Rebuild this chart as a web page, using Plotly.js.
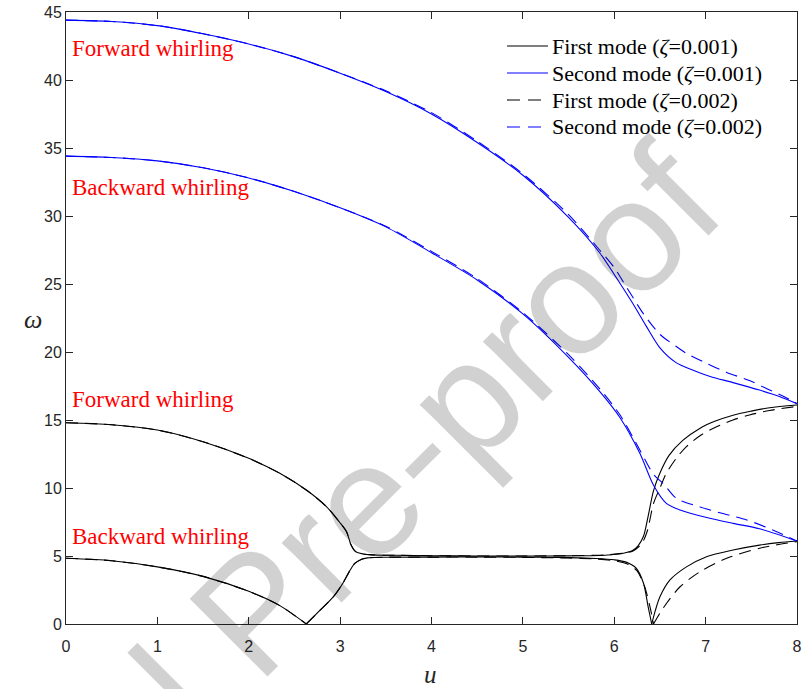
<!DOCTYPE html>
<html>
<head>
<meta charset="utf-8">
<script src="https://cdn.plot.ly/plotly-3.0.1.min.js"></script>
<style>
  html, body { margin: 0; padding: 0; background: #fff; }
  #chart { width: 802px; height: 689px; }
</style>
</head>
<body>
<div id="chart"></div>
<script>
// ---- Whirl frequency omega versus flow velocity u ----

// First mode, zeta = 0.001 (solid black)
const m1a_fw_u = [0, 0.5, 1, 1.5, 2.0, 2.34, 2.63, 2.85, 2.99, 3.07, 3.12, 3.17, 3.25, 3.35, 3.6, 4, 4.5, 5, 5.5, 5.9, 6.1, 6.2, 6.26, 6.32, 6.37, 6.43, 6.5, 6.6, 6.75, 6.94, 7.1, 7.3, 7.5, 7.7, 8];
const m1a_fw_w = [14.8, 14.65, 14.26, 13.4, 12.18, 11.08, 9.85, 8.63, 7.52, 6.79, 5.81, 5.32, 5.15, 5.08, 5.05, 5.02, 5.0, 5.0, 5.01, 5.06, 5.2, 5.4, 5.75, 6.45, 7.9, 9.8, 11.1, 12.4, 13.5, 14.4, 14.9, 15.35, 15.65, 15.9, 16.1];
const m1a_bw1_u = [0, 0.5, 1, 1.5, 2.0, 2.34, 2.63];
const m1a_bw1_w = [4.83, 4.65, 4.2, 3.5, 2.4, 1.35, 0];
const m1a_bw2_u = [2.63, 2.77, 2.92, 3.03, 3.1, 3.16, 3.23, 3.3, 3.5, 4, 4.5, 5, 5.5, 5.8, 6.0, 6.13, 6.24, 6.32, 6.37, 6.41];
const m1a_bw2_w = [0, 0.95, 1.95, 3.0, 3.85, 4.45, 4.75, 4.86, 4.91, 4.92, 4.93, 4.92, 4.88, 4.82, 4.72, 4.55, 4.1, 3.0, 1.3, 0];
const m1a_bw3_u = [6.41, 6.45, 6.5, 6.61, 6.79, 7.01, 7.3, 7.59, 7.8, 8];
const m1a_bw3_w = [0, 1.0, 2.0, 3.24, 4.2, 4.95, 5.44, 5.8, 5.98, 6.1];

// First mode, zeta = 0.002 (dashed black)
const m1b_fw_u = [0, 0.5, 1, 1.5, 2.0, 2.34, 2.63, 2.85, 2.99, 3.07, 3.12, 3.17, 3.25, 3.35, 3.6, 4, 4.5, 5, 5.5, 5.9, 6.1, 6.2, 6.3, 6.36, 6.43, 6.5, 6.57, 6.68, 6.79, 6.95, 7.12, 7.3, 7.48, 7.7, 8];
const m1b_fw_w = [14.8, 14.65, 14.26, 13.4, 12.18, 11.08, 9.85, 8.63, 7.52, 6.79, 5.81, 5.32, 5.15, 5.08, 5.05, 5.02, 5.0, 5.0, 5.02, 5.08, 5.2, 5.35, 5.9, 6.8, 8.87, 10.0, 11.08, 12.2, 13.04, 13.9, 14.5, 15.0, 15.37, 15.7, 16.0];
const m1b_bw1_u = [0, 0.5, 1, 1.5, 2.0, 2.34, 2.63];
const m1b_bw1_w = [4.83, 4.65, 4.2, 3.5, 2.4, 1.35, 0];
const m1b_bw2_u = [2.63, 2.77, 2.92, 3.03, 3.1, 3.16, 3.23, 3.3, 3.5, 4, 4.5, 5, 5.5, 5.8, 6.0, 6.15, 6.25, 6.33, 6.39, 6.43];
const m1b_bw2_w = [0, 0.95, 1.95, 3.0, 3.85, 4.45, 4.75, 4.86, 4.91, 4.92, 4.92, 4.9, 4.85, 4.78, 4.65, 4.4, 3.9, 2.8, 1.3, 0];
const m1b_bw3_u = [6.43, 6.5, 6.57, 6.72, 6.94, 7.23, 7.59, 7.8, 8];
const m1b_bw3_w = [0, 0.8, 1.5, 2.74, 3.85, 4.83, 5.57, 5.85, 6.05];

// Second mode, zeta = 0.001 (solid blue)
const m2a_fw_u = [0, 0.5, 1, 1.5, 2, 2.5, 3, 3.5, 4, 4.5, 5, 5.5, 5.84, 6.0, 6.2, 6.35, 6.5, 6.68, 6.85, 7.05, 7.3, 7.59, 7.8, 8];
const m2a_fw_w = [44.4, 44.3, 44.0, 43.4, 42.65, 41.7, 40.5, 39.15, 37.5, 35.4, 33.0, 29.9, 27.3, 25.7, 23.6, 21.9, 20.3, 19.2, 18.7, 18.2, 17.75, 17.2, 16.75, 16.2];
const m2a_bw_u = [0, 0.5, 1, 1.5, 2, 2.5, 3, 3.5, 4, 4.5, 5, 5.5, 5.84, 6.06, 6.28, 6.43, 6.57, 6.72, 7.0, 7.3, 7.59, 8];
const m2a_bw_w = [34.4, 34.3, 34.05, 33.55, 32.8, 31.8, 30.6, 29.2, 27.3, 25.3, 22.8, 19.6, 17.1, 15.2, 12.55, 10.2, 8.87, 8.38, 7.85, 7.4, 7.0, 6.1];

// Second mode, zeta = 0.002 (dashed blue)
const m2b_fw_u = [0, 0.5, 1, 1.5, 2, 2.5, 3, 3.5, 4, 4.5, 5, 5.5, 5.84, 6.0, 6.15, 6.32, 6.5, 6.68, 6.79, 7.0, 7.23, 7.48, 7.67, 7.85, 8];
const m2b_fw_w = [44.4, 44.3, 44.0, 43.4, 42.65, 41.7, 40.5, 39.2, 37.6, 35.5, 33.1, 30.1, 27.5, 26.2, 24.6, 22.8, 21.3, 20.4, 19.9, 19.2, 18.5, 17.9, 17.3, 16.75, 16.2];
const m2b_bw_u = [0, 0.5, 1, 1.5, 2, 2.5, 3, 3.5, 4, 4.5, 5, 5.5, 5.84, 6.06, 6.28, 6.43, 6.54, 6.68, 6.94, 7.2, 7.45, 7.74, 8];
const m2b_bw_w = [34.4, 34.3, 34.05, 33.55, 32.8, 31.8, 30.6, 29.25, 27.4, 25.4, 22.9, 19.8, 17.3, 15.4, 12.8, 11.0, 10.3, 9.24, 8.6, 8.1, 7.65, 6.9, 6.1];

// Legend labels and region labels
const legendNames = [
  'First mode (<i>ζ</i>=0.001)',
  'Second mode (<i>ζ</i>=0.001)',
  'First mode (<i>ζ</i>=0.002)',
  'Second mode (<i>ζ</i>=0.002)'
];
const regionLabels = ['Forward whirling', 'Backward whirling', 'Forward whirling', 'Backward whirling'];
const regionLabelY = [42.3, 32.1, 16.5, 6.4];
const xTicks = [0, 1, 2, 3, 4, 5, 6, 7, 8];
const yTicks = [0, 5, 10, 15, 20, 25, 30, 35, 40, 45];

const BLACK = '#000000';
const BLUE = '#0000ff';
const DASH = '12px,7px';
const styles = [
  { color: BLACK, dash: 'solid', key: 'solid' },
  { color: BLUE, dash: 'solid', key: 'solid' },
  { color: BLACK, dash: DASH, key: '13px,8px' },
  { color: BLUE, dash: DASH, key: '13px,8px' }
];

function curve(u, w, k) {
  return {
    x: u, y: w, type: 'scatter', mode: 'lines',
    line: { color: styles[k].color, width: 1.1, dash: styles[k].dash, shape: 'spline', smoothing: 0.8 },
    name: legendNames[k], showlegend: false, hoverinfo: 'x+y'
  };
}

const traces = [
  curve(m1a_fw_u, m1a_fw_w, 0),
  curve(m1a_bw1_u, m1a_bw1_w, 0),
  curve(m1a_bw2_u, m1a_bw2_w, 0),
  curve(m1a_bw3_u, m1a_bw3_w, 0),
  curve(m2a_fw_u, m2a_fw_w, 1),
  curve(m2a_bw_u, m2a_bw_w, 1),
  curve(m1b_fw_u, m1b_fw_w, 2),
  curve(m1b_bw1_u, m1b_bw1_w, 2),
  curve(m1b_bw2_u, m1b_bw2_w, 2),
  curve(m1b_bw3_u, m1b_bw3_w, 2),
  curve(m2b_fw_u, m2b_fw_w, 3),
  curve(m2b_bw_u, m2b_bw_w, 3)
];

const serif = 'Liberation Serif, Times New Roman, serif';
const annotations = regionLabels.map((t, i) => ({
  text: t, xref: 'x', yref: 'y', x: 0.044, y: regionLabelY[i],
  xanchor: 'left', yanchor: 'middle', showarrow: false,
  font: { family: serif, size: 23, color: '#ff0000' }
}));

// Legend block in the upper right corner: line sample + label per row
const legendX0 = 0.6033, legendX1 = 0.6594, legendTextX = 0.6615;
const legendRowY = [0.9444, 0.9003, 0.8562, 0.8121];
const shapes = [];
legendNames.forEach((name, k) => {
  shapes.push({
    type: 'line', xref: 'paper', yref: 'paper',
    x0: legendX0, x1: legendX1, y0: legendRowY[k], y1: legendRowY[k],
    line: { color: styles[k].color, width: 1.1, dash: styles[k].key }
  });
  annotations.push({
    text: name, xref: 'paper', yref: 'paper', x: legendTextX, y: legendRowY[k],
    xanchor: 'left', yanchor: 'middle', showarrow: false,
    font: { family: serif, size: 22, color: '#000000' }
  });
});

// Axis titles
annotations.push({
  text: '<i>ω</i>', xref: 'paper', yref: 'paper', x: -0.045, y: 0.497,
  xanchor: 'center', yanchor: 'middle', showarrow: false,
  font: { family: serif, size: 26, color: '#262626' }
});
annotations.push({
  text: '<i>u</i>', xref: 'paper', yref: 'paper', x: 0.4993, y: -0.083,
  xanchor: 'center', yanchor: 'middle', showarrow: false,
  font: { family: serif, size: 25, color: '#262626' }
});

// Diagonal watermark
annotations.push({
  text: 'Journal Pre-proof', xref: 'paper', yref: 'paper', x: 0.257, y: 0.021,
  xanchor: 'center', yanchor: 'middle', showarrow: false, textangle: -45,
  font: { family: 'Liberation Sans, Arial, sans-serif', size: 160, color: 'rgba(0,0,0,0.18)' }
});

const axisCommon = {
  showline: true, linecolor: '#262626', linewidth: 1, mirror: 'ticks',
  ticks: 'inside', ticklen: 7, tickwidth: 1, tickcolor: '#262626',
  showgrid: false, zeroline: false,
  tickfont: { family: 'Liberation Sans, Arial, sans-serif', size: 16, color: '#262626' }
};

const layout = {
  width: 802, height: 689,
  margin: { l: 66, r: 5, t: 12, b: 65 },
  paper_bgcolor: '#ffffff', plot_bgcolor: '#ffffff',
  xaxis: Object.assign({}, axisCommon, {
    range: [0, 8], tickvals: xTicks, ticktext: xTicks.map(String), ticklabelstandoff: 8
  }),
  yaxis: Object.assign({}, axisCommon, {
    range: [0, 45], tickvals: yTicks, ticktext: yTicks.map(String)
  }),
  showlegend: false,
  shapes: shapes,
  annotations: annotations
};

Plotly.newPlot('chart', traces, layout, { displayModeBar: false, staticPlot: true });
</script>
</body>
</html>
